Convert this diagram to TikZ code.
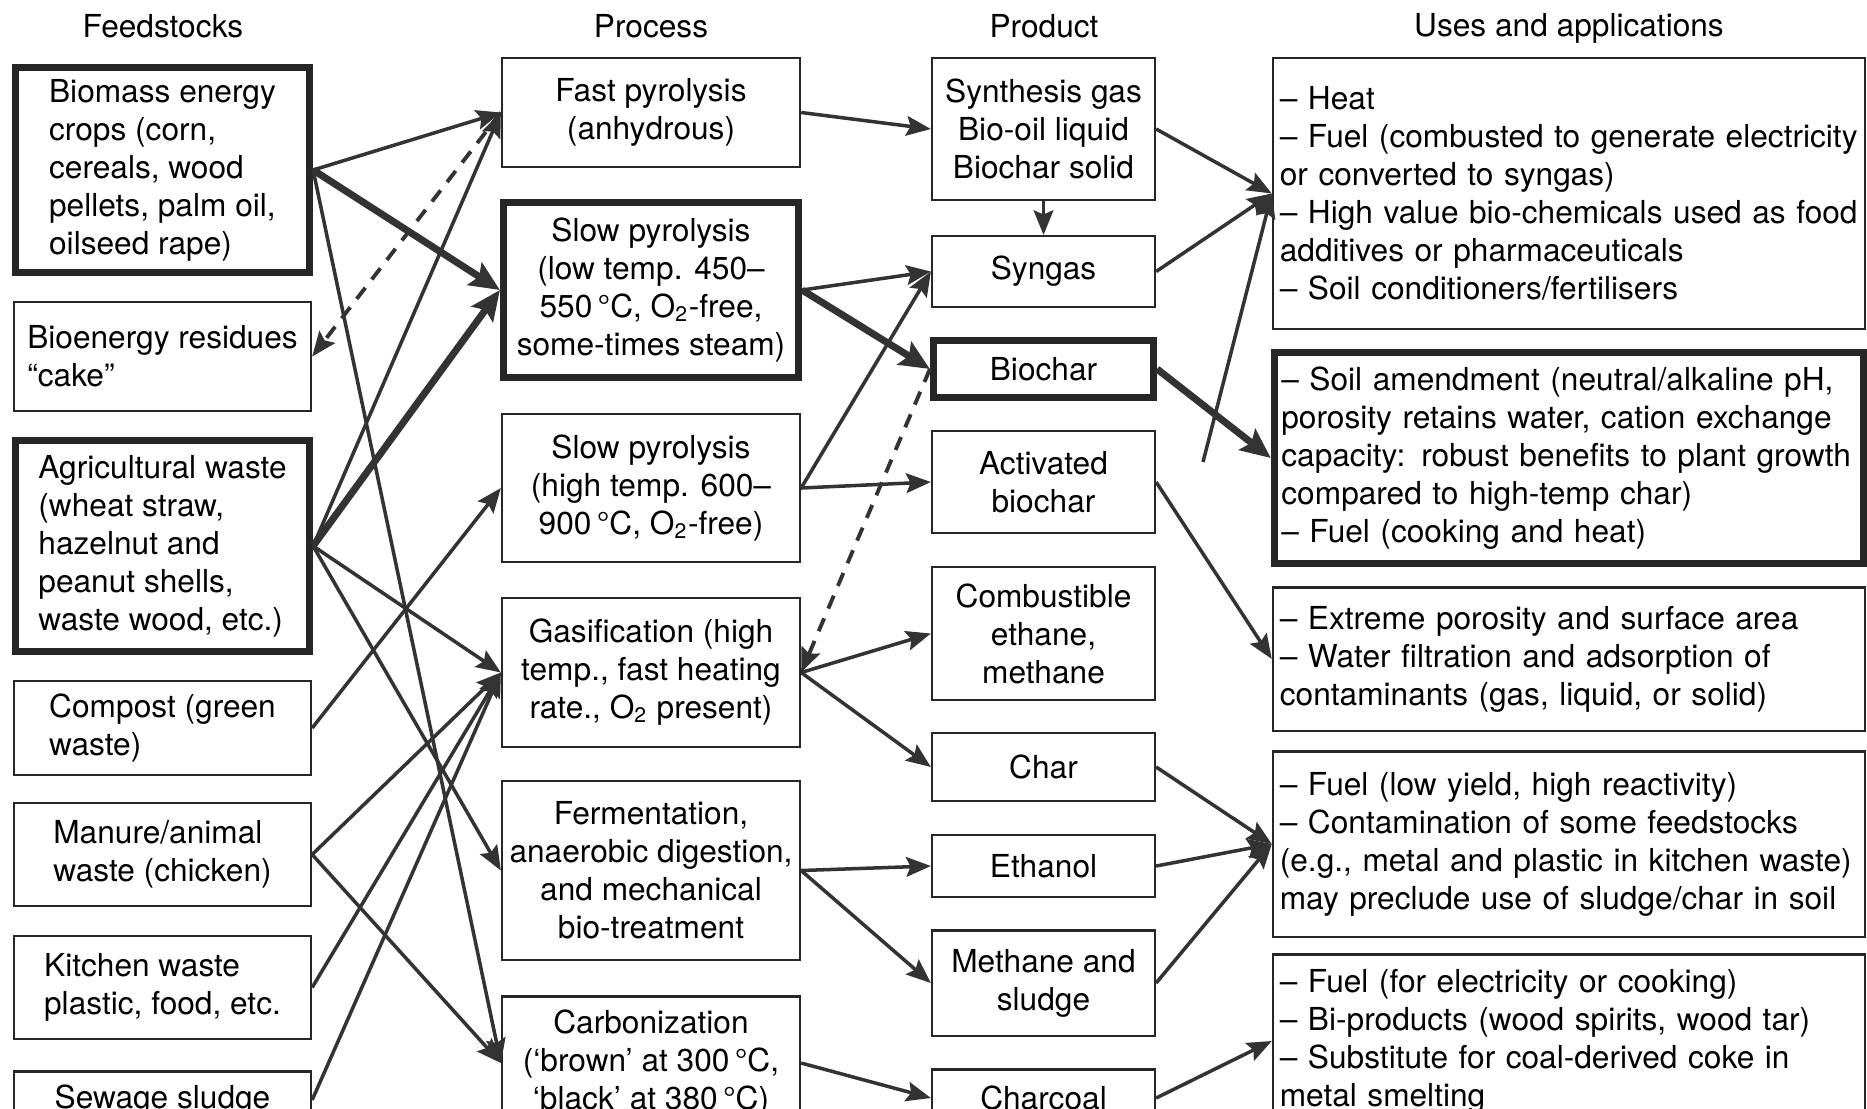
\documentclass[tikz,border=0pt]{standalone}
\usepackage{fontspec}
\setmainfont{TeX Gyre Heros}
\usetikzlibrary{arrows.meta}

\begin{document}
\begin{tikzpicture}[x=0.01cm, y=-0.01cm,
    >={Stealth[length=7pt, width=5.6pt, inset=1.2pt]},
    font=\fontsize{9}{10.8}\selectfont,
    box/.style={draw=black!85, line width=0.6pt, inner sep=0pt, align=center},
    thickbox/.style={box, line width=2pt},
    feed/.style={align=left},
    use/.style={align=left, text width=57.8mm, inner xsep=0.7mm, inner ysep=0pt},
    link/.style={->, draw=black!80, line width=1pt},
    boldlink/.style={-{Stealth[length=8.5pt, width=7.5pt, inset=1.5pt]}, draw=black!80, line width=2pt},
    dashlink/.style={link, line width=1.1pt, dash pattern=on 4pt off 3pt}]
  \useasboundingbox (0,0) rectangle (1867,1108);
  \clip (0,0) rectangle (1867,1108);
  % Column headers
  \node (hfeed) at (163,26) {Feedstocks};
  \node (hproc) at (651,26) {Process};
  \node (hprod) at (1044,26) {Product};
  \node (huse) at (1569,28) {Uses and applications};
  % Feedstocks
  \node[thickbox, feed, minimum width=29.4mm, minimum height=20.5mm] (biomass) at (162.5,170)
    {Biomass energy\\crops (corn,\\cereals, wood\\pellets, palm oil,\\oilseed rape)};
  \node[box, feed, minimum width=29.7mm, minimum height=10.9mm] (bioenergy) at (162.5,356.5)
    {Bioenergy residues\\“cake”};
  \node[thickbox, feed, minimum width=29.4mm, minimum height=21mm] (agri) at (162.5,546)
    {Agricultural waste\\(wheat straw,\\hazelnut and\\peanut shells,\\waste wood, etc.)};
  \node[box, feed, minimum width=29.7mm, minimum height=9.4mm] (compost) at (162.5,728)
    {Compost (green\\waste)};
  \node[box, feed, minimum width=29.7mm, minimum height=10.3mm] (manure) at (162.5,854.5)
    {Manure/animal\\waste (chicken)};
  \node[box, feed, minimum width=29.7mm, minimum height=10.3mm] (kitchen) at (162.5,987.5)
    {Kitchen waste\\plastic, food, etc.};
  \node[box, feed, minimum width=29.7mm, minimum height=5.7mm] (sewage) at (162.5,1100)
    {Sewage sludge};
  % Processes
  \node[box, minimum width=29.8mm, minimum height=10.9mm] (fast) at (651,112.5)
    {Fast pyrolysis\\(anhydrous)};
  \node[thickbox, minimum width=29.5mm, minimum height=17.5mm] (slowlow) at (651,290)
    {Slow pyrolysis\\(low temp. 450–\\550\,°C, O\textsubscript{2}-free,\\some-times steam)};
  \node[box, minimum width=29.8mm, minimum height=14.8mm] (slowhigh) at (651,488)
    {Slow pyrolysis\\(high temp. 600–\\900\,°C, O\textsubscript{2}-free)};
  \node[box, minimum width=29.8mm, minimum height=14.9mm] (gasif) at (651,672.5)
    {Gasification (high\\temp., fast heating\\rate., O\textsubscript{2} present)};
  \node[box, minimum width=29.8mm, minimum height=17.9mm] (ferm) at (651,870.5)
    {Fermentation,\\anaerobic digestion,\\and mechanical\\bio-treatment};
  \node[box, minimum width=29.8mm, minimum height=13.3mm] (carb) at (651,1063)
    {Carbonization\\(‘brown’ at 300\,°C,\\‘black’ at 380\,°C)};
  % Products
  \node[box, minimum width=22.3mm, minimum height=14.2mm] (synth) at (1043.5,129)
    {Synthesis gas\\Bio-oil liquid\\Biochar solid};
  \node[box, minimum width=22.3mm, minimum height=7.1mm] (syngas) at (1043.5,271.5) {Syngas};
  \node[thickbox, minimum width=22mm, minimum height=5.7mm] (biochar) at (1043.5,369) {Biochar};
  \node[box, minimum width=22.3mm, minimum height=10.2mm] (activ) at (1043.5,482)
    {Activated\\biochar};
  \node[box, minimum width=22.3mm, minimum height=13.3mm] (combus) at (1043.5,633.5)
    {Combustible\\ethane,\\methane};
  \node[box, minimum width=22.3mm, minimum height=6.8mm] (char) at (1043.5,767) {Char};
  \node[box, minimum width=22.3mm, minimum height=6.2mm] (ethanol) at (1043.5,866) {Ethanol};
  \node[box, minimum width=22.3mm, minimum height=10.5mm] (methane) at (1043.5,983)
    {Methane and\\sludge};
  \node[box, minimum width=22.3mm, minimum height=5.7mm] (charcoal) at (1043.5,1098) {Charcoal};
  % Uses and applications
  \node[box, use, minimum height=27.1mm] (use1) at (1569,193.5)
    {– Heat\\– Fuel (combusted to generate electricity\\or converted to syngas)\\– High value bio-chemicals used as food\\additives or pharmaceuticals\\– Soil conditioners/fertilisers};
  \node[thickbox, use, text width=57.5mm, minimum height=21.1mm] (use2) at (1569,458)
    {– Soil amendment (neutral/alkaline pH,\\porosity retains water, cation exchange\\capacity: robust benefits to plant growth\\compared to high-temp char)\\– Fuel (cooking and heat)};
  \node[box, use, minimum height=14.3mm] (use3) at (1569,659)
    {– Extreme porosity and surface area\\– Water filtration and adsorption of\\contaminants (gas, liquid, or solid)};
  \node[box, use, minimum height=18.5mm] (use4) at (1569,844)
    {– Fuel (low yield, high reactivity)\\– Contamination of some feedstocks\\(e.g., metal and plastic in kitchen waste)\\may preclude use of sludge/char in soil};
  \node[box, use, minimum height=17.3mm] (use5) at (1569,1041)
    {– Fuel (for electricity or cooking)\\– Bi-products (wood spirits, wood tar)\\– Substitute for coal-derived coke in\\metal smelting};
  \coordinate (loose) at (1203,462);
  % Feedstocks to processes
  \draw[link] (biomass.east) -- (fast.west);
  \draw[boldlink] (biomass.east) -- (slowlow.west);
  \draw[link] (biomass.east) -- (carb.west);
  \draw[dashlink] (fast.west) -- (bioenergy.east);
  \draw[link] (agri.east) -- (fast.west);
  \draw[boldlink] (agri.east) -- (slowlow.west);
  \draw[link] (agri.east) -- (gasif.west);
  \draw[link] (agri.east) -- (ferm.west);
  \draw[link] (compost.east) -- (slowhigh.west);
  \draw[link] (manure.east) -- (gasif.west);
  \draw[link] (manure.east) -- (carb.west);
  \draw[link] (kitchen.east) -- (gasif.west);
  \draw[link] (sewage.east) -- (gasif.west);
  % Processes to products
  \draw[link] (fast.east) -- (synth.west);
  \draw[link] (synth.south) -- (syngas.north);
  \draw[link] (slowlow.east) -- (syngas.west);
  \draw[boldlink] (slowlow.east) -- (biochar.west);
  \draw[link] (slowhigh.east) -- (syngas.west);
  \draw[link] (slowhigh.east) -- (activ.west);
  \draw[dashlink] (biochar.west) -- (gasif.east);
  \draw[link] (gasif.east) -- (combus.west);
  \draw[link] (gasif.east) -- (char.west);
  \draw[link] (ferm.east) -- (ethanol.west);
  \draw[link] (ferm.east) -- (methane.west);
  \draw[link] (carb.east) -- (charcoal.west);
  % Products to uses
  \draw[link] (synth.east) -- (use1.west);
  \draw[link] (syngas.east) -- (use1.west);
  \draw[link] (loose) -- (use1.west);
  \draw[boldlink] (biochar.east) -- (use2.west);
  \draw[link] (activ.east) -- (use3.west);
  \draw[link] (char.east) -- (use4.west);
  \draw[link] (ethanol.east) -- (use4.west);
  \draw[link] (methane.east) -- (use4.west);
  \draw[link] (charcoal.east) -- (use5.west);
\end{tikzpicture}
\end{document}
